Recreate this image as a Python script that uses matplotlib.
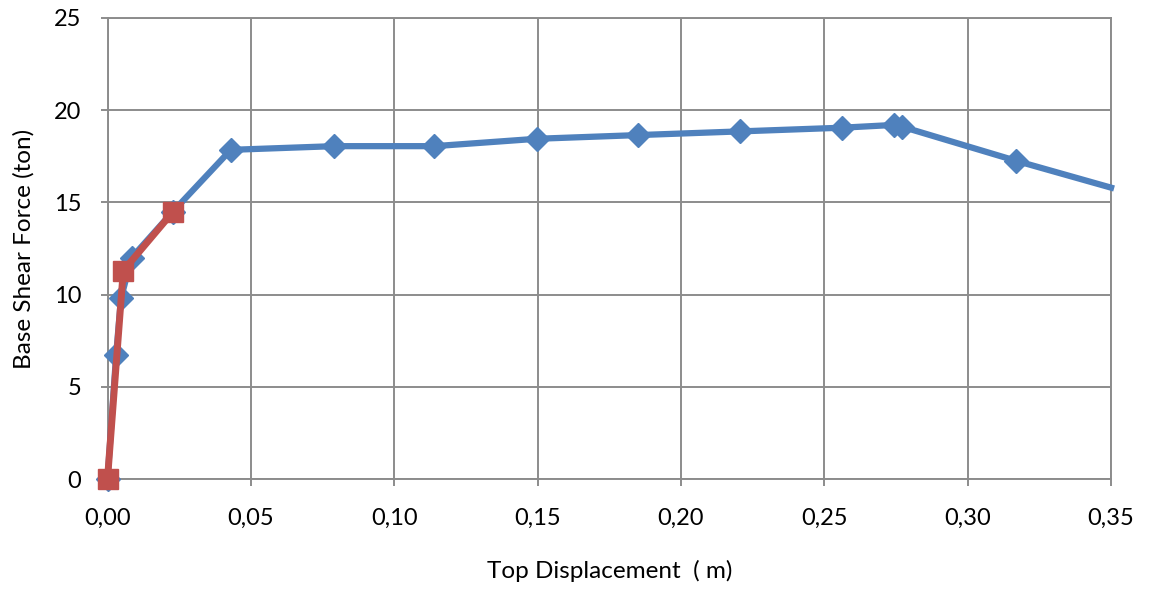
import matplotlib
matplotlib.use("Agg")
import matplotlib.pyplot as plt
from matplotlib.ticker import FuncFormatter

# Pushover curve data: top displacement (m) vs base shear (ton)
disp_curve = [0.0, 0.0030, 0.0047, 0.0084, 0.0228, 0.0430, 0.0790, 0.1140,
              0.1497, 0.1850, 0.2205, 0.2560, 0.2742, 0.2772, 0.3170, 0.3500]
shear_curve = [0.0, 6.7, 9.8, 12.0, 14.5, 17.85, 18.05, 18.05,
               18.45, 18.65, 18.85, 19.05, 19.2, 19.1, 17.25, 15.8]

# Bilinear idealisation
disp_bilinear = [0.0, 0.0055, 0.0229]
shear_bilinear = [0.0, 11.3, 14.5]

x_ticks = [0.00, 0.05, 0.10, 0.15, 0.20, 0.25, 0.30, 0.35]
y_ticks = [0, 5, 10, 15, 20, 25]

BLUE = "#4F81BD"
RED = "#C0504D"
GRID = "#8C8C8C"

plt.rcParams["font.family"] = ["Lato", "DejaVu Sans"]

fig = plt.figure(figsize=(11.51, 5.94), dpi=100)
ax = fig.add_axes([0.0934, 0.1936, 0.8719, 0.7761])

ax.plot(disp_curve, shear_curve, color=BLUE, lw=4.5, marker="D", ms=12.5,
        markevery=list(range(len(disp_curve) - 1)), zorder=3, clip_on=False)
ax.plot(disp_bilinear, shear_bilinear, color=RED, lw=5.0, marker="s", ms=14.5,
        zorder=4, clip_on=False)

ax.set_xlim(0, 0.35)
ax.set_ylim(0, 25)
ax.set_xticks(x_ticks)
ax.set_yticks(y_ticks)
ax.xaxis.set_major_formatter(FuncFormatter(lambda v, p: f"{v:.2f}".replace(".", ",")))
ax.yaxis.set_major_formatter(FuncFormatter(lambda v, p: f"{v:.0f}"))

ax.grid(True, color=GRID, lw=1.4)
ax.set_axisbelow(True)
for s in ax.spines.values():
    s.set_color(GRID)
    s.set_linewidth(1.4)

ax.tick_params(axis="both", direction="out", length=5, width=1.4, color=GRID,
               labelsize=17, labelcolor="black")
ax.tick_params(axis="x", pad=16)
ax.tick_params(axis="y", pad=14)

ax.set_xlabel("Top Displacement  ( m)", fontsize=17.5, labelpad=22)
ax.set_ylabel("Base Shear Force (ton)", fontsize=17.5, labelpad=14)

fig.savefig("out.png", dpi=100)
